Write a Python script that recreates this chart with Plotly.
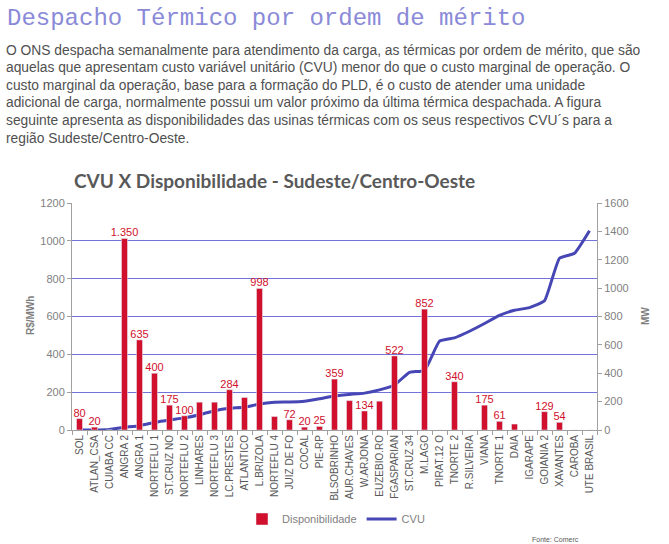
import plotly.graph_objects as go

usinas = ["SOL", "ATLAN_CSA", "CUIABA CC", "ANGRA 2", "ANGRA 1", "NORTEFLU 1", "ST.CRUZ NO",
          "NORTEFLU 2", "LINHARES", "NORTEFLU 3", "LC.PRESTES", "ATLANTICO", "L.BRIZOLA",
          "NORTEFLU 4", "JUIZ DE FO", "COCAL", "PIE-RP", "BLSOBRINHO", "AUR.CHAVES", "W.ARJONA",
          "EUZEBIO.RO", "FGASPARIAN", "ST.CRUZ 34", "M.LAGO", "PIRAT.12 O", "TNORTE 2",
          "R.SILVEIRA", "VIANA", "TNORTE 1", "DAIA", "IGARAPE", "GOIANIA 2", "XAVANTES",
          "CAROBA", "UTE BRASIL"]

# disponibilidade (MW) - eixo da direita
disponibilidade = [80, 20, 0, 1350, 635, 400, 175, 100, 196, 196, 284, 229, 998, 95, 72, 20, 25,
                   359, 207, 134, 203, 522, 0, 852, 0, 340, 0, 175, 61, 42, 0, 129, 54, 0, 0]

# rotulos mostrados no grafico ("" = sem rotulo)
rotulos = ["80", "20", "", "1.350", "635", "400", "175", "100", "", "", "284", "", "998", "",
           "72", "20", "25", "359", "", "134", "", "522", "", "852", "", "340", "", "175", "61",
           "", "", "129", "54", "", ""]

# CVU (R$/MWh) - eixo da esquerda
cvu = [0, 0, 3, 14, 23, 40, 53, 64, 81, 102, 115, 120, 138, 147, 148, 152, 165, 180, 188, 195,
       212, 238, 305, 315, 470, 487, 522, 563, 606, 633, 647, 683, 908, 934, 1053]

titulo = "Despacho Térmico por ordem de mérito"
paragrafo = [
    "O ONS despacha semanalmente para atendimento da carga, as térmicas por ordem de mérito, que são",
    "aquelas que apresentam custo variável unitário (CVU) menor do que o custo marginal de operação. O",
    "custo marginal da operação, base para a formação do PLD, é o custo de atender uma unidade",
    "adicional de carga, normalmente possui um valor próximo da última térmica despachada. A figura",
    "seguinte apresenta as disponibilidades das usinas térmicas com os seus respectivos CVU´s para a",
    "região Sudeste/Centro-Oeste.",
]

RED = "#d0102c"
BLUE = "#4646b4"
GRID = "#7272d8"
GRAY = "#7f7f7f"

L, R, T, B = 72, 72, 203, 114
W, H = 669, 544
PW, PH = W - L - R, H - T - B


def fx(px):
    return (px - L) / PW


def fy(py):
    return (H - B - py) / PH


fig = go.Figure()
fig.add_trace(go.Bar(x=usinas, y=disponibilidade, name="Disponibilidade", yaxis="y2",
                     marker_color=RED, width=0.4, text=rotulos, textposition="outside",
                     textfont=dict(color=RED, size=11, family="Arial"),
                     constraintext="none", cliponaxis=False))
fig.add_trace(go.Scatter(x=usinas, y=cvu, name="CVU", mode="lines",
                         line=dict(color=BLUE, width=3, shape="spline", smoothing=0.4)))

fig.update_layout(
    width=W, height=H, margin=dict(l=L, r=R, t=T, b=B, autoexpand=False),
    paper_bgcolor="white", plot_bgcolor="white",
    font=dict(family="Arial", color=GRAY),
    showlegend=True,
    legend=dict(orientation="h", x=fx(336), y=fy(519), xanchor="center", yanchor="middle",
                font=dict(size=11, color=GRAY), traceorder="normal"),
    xaxis=dict(tickangle=-90, tickfont=dict(size=10, color="#595959"), showline=True,
               linecolor="#a0a0a0", ticks="outside", tickson="boundaries", ticklen=4,
               tickcolor="#a0a0a0", range=[-0.5, len(usinas) - 0.5], automargin=False),
    yaxis=dict(range=[0, 1200], dtick=200, showgrid=True, gridcolor=GRID, gridwidth=1,
               showline=True, linecolor="#a0a0a0", ticks="outside", ticklen=4,
               tickcolor="#a0a0a0", tickfont=dict(size=11, color=GRAY), zeroline=False,
               automargin=False),
    yaxis2=dict(range=[0, 1600], dtick=200, overlaying="y", side="right", showgrid=False,
                showline=True, linecolor="#a0a0a0", ticks="outside", ticklen=4,
                tickcolor="#a0a0a0", tickfont=dict(size=11, color=GRAY), zeroline=False,
                automargin=False),
    bargap=0.6,
)

anns = [
    dict(text=titulo, x=fx(5), y=fy(19), xanchor="left", yanchor="middle",
         font=dict(family="Liberation Mono, Courier New, monospace", size=24, color="#8a8ad8")),
    dict(text="<b>CVU X Disponibilidade - Sudeste/Centro-Oeste</b>", x=fx(72), y=fy(181),
         xanchor="left", yanchor="middle", font=dict(family="Lato", size=19, color="#595959")),
    dict(text="<b>R$/MWh</b>", x=fx(30), y=fy(316), textangle=-90, xanchor="center",
         yanchor="middle", font=dict(size=10, color=GRAY)),
    dict(text="<b>MW</b>", x=fx(645), y=fy(316), textangle=-90, xanchor="center",
         yanchor="middle", font=dict(size=10, color=GRAY)),
    dict(text="Fonte: Comerc", x=fx(530), y=fy(539), xanchor="left", yanchor="middle",
         font=dict(size=7, color="#595959")),
]
for i, linha in enumerate(paragrafo):
    anns.append(dict(text=linha, x=fx(4), y=fy(50 + i * 17.6), xanchor="left", yanchor="middle",
                     font=dict(family="Arial, Liberation Sans, sans-serif",
                               size=13.8, color="#505050")))
for a in anns:
    a.update(xref="paper", yref="paper", showarrow=False)
fig.update_layout(annotations=anns)

# sem margem da pagina, para o grafico ficar no canto
fig.write_html("out.html", config={"displayModeBar": False},
               post_script="document.body.style.margin='0';")
